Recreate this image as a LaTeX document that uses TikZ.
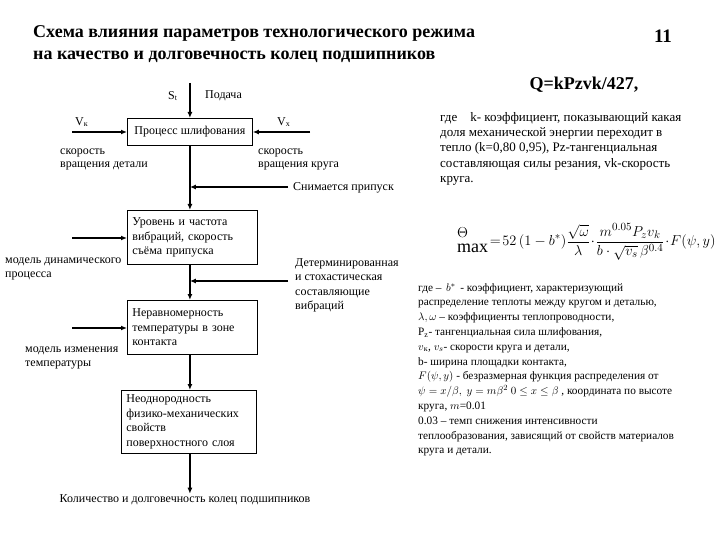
\documentclass[tikz,border=0pt]{standalone}
\usepackage{fontspec}
\setmainfont{Liberation Serif}
\usetikzlibrary{arrows.meta}
\newcommand{\fsz}[2]{\fontsize{#1}{#2}\selectfont}
\begin{document}
\begin{tikzpicture}[x=1pt,y=-1pt,
  arr/.style={line width=1.8pt,-{Latex[length=6pt,width=5pt]}},
  blk/.style={draw,line width=0.8pt,anchor=north west,align=left,inner xsep=5pt,inner ysep=2pt,font=\fsz{12}{14.7}},
  lbl/.style={anchor=north west,inner sep=0pt,align=left,font=\fsz{12}{12.8}},
  ]
\useasboundingbox[fill=white] (0,0) rectangle (720,540);

% title
\node[anchor=north west,inner sep=0,align=left,font=\bfseries\fsz{18}{22}] (title) at (33,25) {Схема влияния параметров технологического режима\\на качество и долговечность колец подшипников};
\node[font=\bfseries\fsz{19}{22},inner sep=0] (num) at (663,36) {11};

% flow chart
\node[blk,minimum width=125pt,minimum height=27pt,align=center] (proc) at (127,118) {Процесс шлифования};
\coordinate (topin) at ([yshift=35pt]proc.north);
\draw[arr] (topin) -- (proc.north);
\node[lbl,anchor=west] (st) at (168,96) {S\textsubscript{t}};
\node[lbl,anchor=west] (pod) at (205,96) {Подача};

\coordinate (vkin) at (72,132);
\draw[arr] (vkin) -- (proc.west |- vkin);
\node[lbl,anchor=west] (vk) at (75,122) {V\textsubscript{к}};
\coordinate (vxin) at (310,132);
\draw[arr] (vxin) -- (proc.east |- vxin);
\node[lbl,anchor=west] (vx) at (277,122) {V\textsubscript{х}};
\node[lbl] (sd) at (60,149) {скорость\\вращения детали};
\node[lbl] (sk) at (258,149) {скорость\\вращения круга};

\node[blk,text width=120pt,minimum height=54pt] (b2) at (127,210) {Уровень и частота\\вибраций, скорость\\съёма припуска};
\draw[arr] (proc.south) -- (proc.south |- b2.north);
\coordinate (snin) at (288,187);
\draw[arr] (snin) -- (proc.south |- snin);
\node[lbl,anchor=west] (sn) at (293,188) {Снимается припуск};

\coordinate (dyn) at (72,238);
\draw[arr] (dyn) -- (b2.west |- dyn);
\node[lbl,font=\fsz{12}{13.5}] (mdyn) at (5,258) {модель динамического\\процесса};

\node[blk,text width=120pt,minimum height=54pt] (b3) at (127,300) {Неравномерность\\температуры в зоне\\контакта};
\draw[arr] (proc.south |- b2.south) -- (proc.south |- b3.north);
\coordinate (detin) at (288,281);
\draw[arr] (detin) -- (proc.south |- detin);
\node[lbl,font=\fsz{12}{14.5}] (det) at (295,258) {Детерминированная\\и стохастическая\\составляющие\\вибраций};

\coordinate (tmp) at (72,328);
\draw[arr] (tmp) -- (b3.west |- tmp);
\node[lbl,font=\fsz{12}{14}] (mtmp) at (25,347) {модель изменения\\температуры};

\node[blk,text width=125pt,minimum height=63pt] (b4) at (121,390) {Неоднородность\\физико-механических\\свойств\\поверхностного слоя};
\draw[arr] (proc.south |- b3.south) -- (proc.south |- b4.north);
\node[inner sep=1pt,font=\fsz{12}{14}] (res) at (185,500) {Количество и долговечность колец подшипников};
\draw[arr] (proc.south |- b4.south) -- (proc.south |- res.north);

% right column
\node[font=\bfseries\fsz{18}{20},inner sep=0] (q) at (584,85) {Q=kPzvk/427,};
\node[anchor=north west,inner sep=0,align=left,font=\fsz{13}{15.3}] (p1) at (440,112) {где\quad k- коэффициент, показывающий какая\\доля механической энергии переходит в\\тепло (k=0,80 0,95), Pz-тангенциальная\\составляющая силы резания, vk-скорость\\круга.};

\begin{scope}
\clip (0,0) rectangle (720,540);
\node[anchor=west,inner sep=0,font=\fsz{15.5}{18}] (form) at (457,242) {$\displaystyle\raisebox{8pt}{$\Theta$}\hspace{-11pt}\raisebox{-7pt}{\fsz{18}{20}max}\!=\!52\left(1-b^{*}\right)\!\frac{\sqrt{\omega}}{\lambda}\!\cdot\!\frac{m^{0.05}P_z v_k}{b\cdot\sqrt{v_s}\,\beta^{0.4}}\!\cdot\! F\!\left(\psi,y\right)$};
\end{scope}

\node[anchor=north west,inner sep=0,align=left,font=\fsz{11.3}{14.8}] (p2) at (418,283) {где – \,$b^{*}$\, - коэффициент, характеризующий\\распределение теплоты между кругом и деталью,\\$\lambda, \omega$ – коэффициенты теплопроводности,\\P\textsubscript{z}- тангенциальная сила шлифования,\\$v$\textsubscript{к}, $v_{s}$- скорости круга и детали,\\b- ширина площадки контакта,\\$F(\psi, y)$ - безразмерная функция распределения от\\$\psi = x/\beta,\ y = m\beta^{2}\ 0\le x\le\beta$ , координата по высоте\\круга, $m$=0.01\\0.03 – темп снижения интенсивности\\теплообразования, зависящий от свойств материалов\\круга и детали.};
\end{tikzpicture}
\end{document}
